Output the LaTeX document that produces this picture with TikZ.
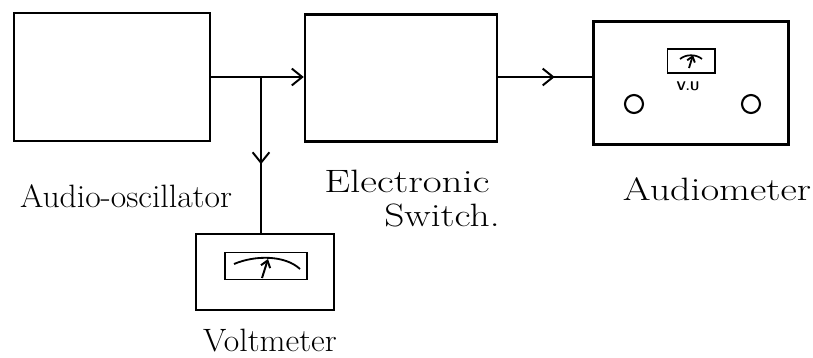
\documentclass[tikz,border=0pt]{standalone}
\usepackage{tikz}
\usetikzlibrary{arrows.meta,positioning,calc,decorations.markings}

\begin{document}
\begin{tikzpicture}[
  x=0.025cm, y=-0.025cm,
  blk/.style={draw, line width=1.7pt, inner sep=0pt},
  conn/.style={line width=1.7pt},
  midarrow/.style={postaction={decorate}, decoration={markings,
      mark=at position #1 with {\arrow{Straight Barb[length=2.6mm, width=4.2mm, line width=1.4pt]}}}},
  lbl/.style={font=\fontsize{23}{27}\selectfont, inner sep=1pt},
  knob/.style={circle, draw, line width=1.5pt, minimum size=0.45cm, inner sep=0pt}
]
  \useasboundingbox (0,0) rectangle (813,357);

  % blocks
  \node[blk, minimum width=4.9cm, minimum height=3.2cm] (osc) at (112,77) {};
  \node[blk, minimum width=4.8cm, minimum height=3.175cm] (sw) at (401,78) {};
  \node[blk, minimum width=4.875cm, minimum height=3.075cm] (aud) at (691,83) {};
  \node[blk, minimum width=3.45cm, minimum height=1.9cm] (volt) at (265,272) {};

  % meters
  \node[blk, line width=1.4pt, minimum width=2.05cm, minimum height=0.675cm] (vm) at (266,266) {};
  \draw[line width=1.3pt] ($(vm.west)+(10,-2)$) .. controls (255,255) and (285,255) .. ($(vm.east)+(-8,3)$);
  \draw[line width=1.4pt, -{Straight Barb[length=1.6mm, width=2.4mm]}] (262,278) -- (268,259);

  \node[blk, line width=1.4pt, minimum width=1.175cm, minimum height=0.6cm] (vu) at (691,61) {};
  \draw[line width=1.2pt] (680,59) .. controls (686,54) and (696,54) .. (702,59);
  \draw[line width=1.3pt, -{Straight Barb[length=1.3mm, width=2mm]}] (689,68) -- (693,55);
  \node[font=\small\sffamily\bfseries] (vulbl) at (688,86) {V.U};
  \node[knob] (k1) at (634,104) {};
  \node[knob] (k2) at (751,104) {};

  % connections
  \coordinate (br) at (261,77);
  \draw[conn, -{Straight Barb[length=2.6mm, width=4.2mm, line width=1.4pt]}] (osc.east |- br) -- (sw.west |- br);
  \draw[conn, midarrow=0.56] (br) -- (br |- volt.north);
  \draw[conn, midarrow=0.6] (sw.east |- br) -- (aud.west |- br);

  % labels
  \node[lbl] (losc) at (126,196) {\scalebox{1.04}[1]{Audio-oscillator}};
  \node[lbl] (lsw1) at (407,181) {\scalebox{1.27}[1]{Electronic}};
  \node[lbl] (lsw2) at (442,215) {\scalebox{1.22}[1]{Switch.}};
  \node[lbl] (laud) at (717,189) {\scalebox{1.24}[1]{Audiometer}};
  \node[lbl] (lvolt) at (270,341) {\scalebox{1.04}[1]{Voltmeter}};
\end{tikzpicture}
\end{document}
